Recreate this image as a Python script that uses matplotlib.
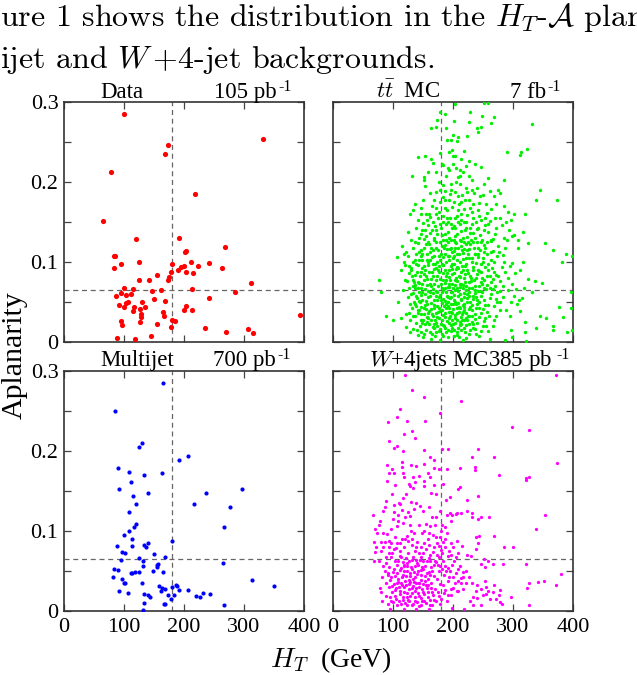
import numpy as np
import matplotlib
matplotlib.use('Agg')
import matplotlib.pyplot as plt

plt.rcParams['font.family'] = ['Liberation Serif', 'DejaVu Serif']
plt.rcParams['mathtext.fontset'] = 'cm'

# values: (HT in GeV, aplanarity)
data_pts = [(100.6,.285),(331,.254),(173,.246),(169,.2355),(79,.212),(219,.185),(65.6,.151),(120.6,.1286),(191,.130),(269,.1186),
(203,.114),(201.7,.112),(85,.108),(83,.107),(95.6,.098),(125,.0995),(84,.093),(180.5,.098),(200.5,.095),(195.6,.094),
(189.4,.0895),(179,.088),(211.7,.100),(223,.095),(241,.0986),(264,.092),(204,.087),(214.4,.086),(155,.0836),(174.4,.0815),
(173,.078),(141,.078),(125.6,.078),(311,.0736),(99.4,.0674),(115,.0657),(161.7,.0645),(146.7,.0637),(212.8,.0666),(285,.0624),
(95,.0616),(102.8,.0587),(111.7,.0595),(86.7,.0574),(241,.0553),(150,.0533),(129.4,.0503),(107,.0503),(102.8,.0487),(169,.0508),
(91.7,.0458),(99.4,.0441),(116.7,.0441),(135.6,.0437),(126,.0412),(204,.0449),(200.5,.0395),(213.3,.0395),(115.6,.0383),(165.6,.0379),
(127.8,.0354),(127.8,.0316),(167,.0325),(393,.0337),(94.4,.0266),(127,.0245),(97,.0208),(155,.0229),(180.5,.027),(185.6,.0266),
(178,.0183),(235,.0171),(307,.0158),(270,.0125),(314.4,.0117),(144.4,.0075),(88.3,.0054),(118.3,.0037)]

multijet_pts = [(165.6,.2846),(84.4,.2497),(129.4,.2105),(125,.2047),(206.7,.1935),(192,.1893),(90.6,.1785),(107.8,.1735),(163.3,.1727),(133.3,.1702),
(111,.1614),(92.2,.1519),(236,.1481),(296,.1531),(139.4,.1477),(115,.144),(216,.134),(120.6,.1336),(277,.1306),(108.3,.1236),
(266,.1053),(120,.1086),(116.7,.1053),(108.9,.0999),(100.6,.0949),(112.8,.0899),(179.4,.0874),(139.4,.0845),(132.8,.082),(136.7,.0795),
(87.8,.0807),(112.8,.0811),(97.2,.0741),(101,.0728),(150.6,.0707),(167.8,.067),(125,.0657),(95.6,.0641),(131.7,.0628),(265,.0595),
(157.2,.0591),(154.4,.057),(132,.0566),(154.4,.0545),(82.8,.0528),(90.6,.0516),(119,.0491),(124.4,.0491),(147.8,.0495),(165,.0483),
(111,.0474),(113.9,.047),(81.7,.0424),(96,.04),(100,.035),(101.7,.035),(130,.035),(312.8,.0391),(349.4,.0312),(158.3,.0308),
(163.3,.0291),(168.9,.0275),(180,.0304),(187.2,.0325),(188.3,.0312),(192,.0258),(207,.0258),(161,.0254),(92,.025),(106,.0225),
(231.7,.0225),(243.9,.0216),(219.4,.0187),(226.7,.0179),(133.9,.0208),(140,.0196),(143.9,.0179),(172.8,.02),(182.9,.0196),(178.3,.0154),
(133.9,.01),(168.3,.0087),(167,.0083),(266,.0075),(132,.0012)]

ttbar_pts = [(203,.297),(252,.299),(259,.299),(178,.288),(186,.285),(229,.288),(249,.283),(269,.281),(173,.277),(201,.276),
(226,.275),(263,.274),(331,.273),(163,.268),(172,.269),(188,.268),(240,.268),(247,.269),(242,.263),(200,.259),
(224,.258),(209,.256),(190,.252),(197,.253),(206,.251),(323,.241),(290,.237),(314,.237),(312,.234),(198,.24),
(193,.238),(178,.236),(200,.233),(204,.233),(142,.231),(154,.232),(213,.229),(219,.239),(163,.229),(166,.224),
(181,.222),(184,.221),(226,.226),(236,.222),(246,.219),(200,.223),(205,.217),(212,.215),(191,.218),(131,.207),
(151,.206),(152,.202),(154,.195),(189,.207),(217,.213),(227,.208),(259,.205),(285,.203),(251,.198),(231,.202),
(209,.206),(176,.2),(183,.196),(197,.198),(211,.197),(222,.193),(240,.192),(262,.189),(275,.19),(278,.186),
(161,.186),(172,.187),(187,.189),(204,.188),(215,.184),(235,.186),(250,.184),(268,.182),(345,.19),(339,.178),
(374,.178),(183,.181),(194,.178),(201,.175),(210,.172),(226,.177),(243,.174),(255,.172),(272,.173),(285,.17),
(137,.173),(147,.168),(133,.165),(172,.168),(178,.175),(190,.165),(198,.169),(218,.166),(232,.162),(241,.165),
(257,.161),(264,.166),(291,.163),(301,.16),(320,.16),(128,.16),(155,.16),(162,.156),(171,.16),(184,.158),
(195,.155),(206,.158),(214,.153),(224,.159),(234,.155),(247,.153),(261,.151),(279,.155),(288,.15),(297,.153),
(141,.152),(150,.149),(158,.146),(167,.15),(178,.147),(189,.148),(201,.145),(211,.147),(221,.143),(231,.148),
(242,.143),(254,.146),(272,.142),(281,.146),(302,.134),(317,.137),(125,.138),(139,.142),(146,.135),(153,.14),
(162,.136),(172,.14),(182,.134),(192,.138),(203,.133),(213,.139),(223,.131),(233,.136),(245,.134),(258,.138),
(267,.129),(294,.14),(299,.133),(308,.128),(130,.128),(141,.124),(151,.129),(160,.122),(169,.128),(178,.125),
(187,.121),(196,.128),(205,.124),(214,.126),(222,.122),(230,.127),(240,.125),(251,.121),(263,.126),(275,.12),
(290,.127),(325,.124),(115,.12),(118,.11),(133,.118),(143,.113),(152,.118),(161,.112),(171,.117),(180,.11),
(190,.116),(199,.112),(208,.118),(217,.111),(226,.116),(236,.11),(245,.115),(256,.11),(267,.114),(283,.109),
(308,.118),(353,.124),(367,.115),(388,.11),(398,.107),(125,.107),(136,.103),(147,.107),(156,.102),(165,.106),
(174,.1),(183,.106),(193,.102),(202,.107),(212,.1),(221,.105),(231,.1),(241,.106),(250,.1),(263,.103),
(273,.107),(285,.1),(299,.099),(316,.1),(382,.1),(120,.096),(130,.093),(139,.097),(149,.092),(158,.096),
(168,.091),(177,.095),(186,.09),(196,.095),(205,.091),(215,.095),(224,.09),(234,.094),(244,.089),(253,.094),
(268,.088),(281,.094),(113,.09),(126,.086),(137,.084),(146,.088),(155,.083),(165,.087),(174,.082),(184,.086),
(193,.081),(202,.086),(211,.081),(220,.085),(230,.08),(240,.085),(249,.08),(262,.083),(272,.084),(291,.08),
(124,.076),(134,.078),(143,.074),(152,.078),(161,.073),(171,.077),(180,.072),(189,.077),(198,.072),(207,.076),
(217,.071),(226,.075),(236,.07),(246,.075),(256,.071),(278,.076),(325,.079),(337,.076),(349,.074),(77,.077),
(127,.068),(137,.071),(147,.067),(156,.071),(166,.066),(175,.07),(184,.065),(194,.069),(203,.065),(212,.069),
(222,.065),(232,.068),(241,.064),(252,.067),(266,.066),(284,.07),(318,.068),(332,.063),(396,.062),(80,.063),
(134,.061),(144,.063),(153,.06),(162,.063),(171,.058),(181,.062),(190,.058),(199,.062),(208,.057),(218,.061),
(227,.057),(236,.061),(247,.058),(264,.06),(279,.064),(302,.058),(315,.055),(125,.056),(140,.055),(149,.052),
(158,.056),(168,.052),(177,.056),(186,.051),(195,.055),(204,.05),(214,.054),(223,.05),(233,.054),(243,.05),
(272,.054),(296,.05),(136,.048),(145,.05),(154,.046),(164,.049),(173,.045),(182,.049),(191,.045),(200,.048),
(210,.044),(219,.048),(229,.044),(240,.047),(258,.046),(307,.047),(376,.044),(396,.043),(131,.042),(141,.04),
(151,.043),(160,.039),(169,.043),(178,.039),(188,.042),(197,.038),(206,.042),(216,.038),(226,.041),(250,.041),
(278,.04),(311,.039),(345,.033),(88,.032),(100,.027),(114,.03),(127,.036),(136,.032),(146,.035),(156,.031),
(165,.035),(174,.031),(184,.034),(193,.03),(203,.034),(213,.031),(225,.033),(236,.029),(268,.028),(295,.032),
(355,.03),(383,.031),(128,.027),(139,.024),(150,.028),(160,.023),(170,.027),(180,.023),(190,.026),(200,.022),
(212,.025),(222,.021),(240,.024),(255,.02),(320,.025),(338,.018),(367,.02),(399,.015),(122,.019),(134,.016),
(145,.02),(155,.015),(166,.019),(176,.014),(186,.018),(196,.014),(208,.017),(220,.012),(233,.017),(247,.014),
(297,.015),(320,.012),(367,.015),(390,.012),(128,.012),(141,.009),(152,.01),(170,.007),(181,.01),(192,.006),
(206,.009),(222,.005),(238,.01),(262,.004),(299,.006),(163,.004),(178,.003),(216,.002),(287,.002),(322,.001)]

# denser part of the ttbar cloud, second pass over the crop
ttbar_core = [(139,.058),(143,.051),(147,.044),(142,.036),(149,.063),(152,.035),(157,.048),(161,.057),(163,.041),(167,.061),
(171,.036),(173,.052),(176,.043),(179,.059),(182,.04),(184,.054),(186,.031),(188,.062),(191,.05),(193,.037),
(194,.043),(197,.056),(198,.027),(200,.041),(202,.059),(204,.03),(205,.047),(207,.036),(209,.064),(211,.043),
(213,.052),(215,.028),(217,.046),(219,.056),(221,.036),(224,.06),(226,.032),(228,.05),(231,.04),(234,.058),
(237,.035),(240,.053),(244,.043),(248,.062),(252,.052),(257,.038),(146,.028),(153,.022),(158,.036),(163,.027),
(168,.018),(172,.024),(177,.03),(183,.021),(187,.036),(191,.015),(195,.033),(199,.018),(203,.024),(207,.012),
(211,.021),(215,.035),(219,.017),(224,.027),(229,.015),(234,.022),(243,.031),(251,.026),(260,.033),(137,.068),
(141,.075),(145,.082),(149,.072),(153,.066),(157,.079),(160,.088),(163,.07),(167,.082),(169,.072),(172,.064),
(175,.09),(178,.079),(181,.068),(183,.096),(186,.074),(188,.083),(191,.069),(193,.09),(195,.078),(197,.063),
(199,.085),(201,.098),(203,.071),(205,.08),(207,.067),(209,.093),(211,.073),(213,.087),(216,.067),(218,.08),
(220,.095),(222,.07),(225,.086),(227,.062),(230,.076),(233,.09),(236,.065),(239,.08),(243,.07),(247,.087),
(251,.077),(255,.066),(259,.09),(264,.075),(270,.07),(275,.083),(131,.083),(127,.095),(134,.1),(138,.11),
(142,.096),(146,.115),(149,.103),(153,.09),(156,.11),(159,.1),(163,.118),(166,.098),(169,.108),(172,.092),
(175,.115),(178,.102),(181,.12),(184,.096),(186,.11),(189,.1),(192,.125),(194,.108),(197,.118),(199,.097),
(202,.114),(204,.125),(207,.102),(210,.11),(213,.12),(216,.104),(219,.116),(222,.098),(225,.11),(228,.122),
(231,.105),(235,.118),(238,.099),(242,.11),(246,.125),(250,.105),(254,.118),(259,.098),(263,.112),(269,.1),
(276,.113),(144,.13),(148,.14),(155,.132),(158,.125),(165,.14),(168,.13),(174,.135),(180,.142),(184,.128),
(187,.135),(194,.13),(198,.142),(201,.128),(206,.135),(209,.15),(216,.13),(220,.14),(225,.125),(228,.136),
(237,.13),(240,.141),(248,.127),(252,.14),(160,.16),(175,.155),(186,.168),(192,.15),(203,.155),(208,.165),
(218,.15),(228,.168),(238,.15),(146,.16),(165,.17),(178,.19),(195,.185),(205,.2),(220,.178),(232,.19),
(130,.09),(133,.07),(130,.06),(128,.047),(134,.033),(135,.05),(138,.045),(140,.015),(147,.012),(150,.006),
(156,.025),(161,.012),(165,.01),(169,.022),(174,.02),(179,.016),(184,.008),(188,.013),(196,.021),(201,.008),
(210,.006),(214,.015),(218,.027),(226,.01),(231,.025),(237,.016),(244,.007),(250,.02),(258,.014),(266,.02),
(272,.033),(278,.05),(283,.056),(289,.04),(292,.065),(298,.073),(305,.066),(310,.052),(262,.055),(268,.045),
(274,.062),(286,.088),(295,.095),(303,.086),(312,.09),(263,.128),(270,.135),(285,.13),(287,.118),(259,.148),
(270,.155),(149,.11),(137,.125),(122,.113),(118,.1),(107,.106),(120,.078),(117,.065),(109,.05),(122,.035)]

# third pass, gaps still open in the cloud
ttbar_fill = [(135,.075),(141,.067),(146,.059),(151,.085),(155,.051),(159,.064),(164,.079),(168,.046),(170,.098),(174,.062),
(177,.087),(180,.053),(183,.078),(185,.045),(187,.067),(190,.086),(192,.056),(194,.072),(196,.048),(198,.091),
(200,.067),(202,.053),(204,.077),(206,.094),(208,.049),(210,.083),(212,.06),(214,.072),(216,.09),(218,.044),
(220,.075),(223,.055),(226,.068),(229,.083),(232,.046),(235,.078),(238,.056),(241,.09),(245,.064),(249,.073),
(253,.046),(257,.083),(261,.068),(267,.079),(273,.05),(144,.04),(149,.024),(155,.041),(159,.03),(166,.033),
(171,.013),(175,.037),(181,.027),(185,.02),(189,.047),(194,.024),(198,.036),(202,.015),(206,.027),(210,.038),
(214,.022),(218,.04),(222,.03),(227,.023),(232,.033),(238,.043),(246,.036),(254,.03),(140,.088),(144,.103),
(151,.095),(155,.122),(162,.103),(167,.115),(171,.125),(176,.107),(181,.097),(185,.118),(188,.128),(191,.108),
(195,.116),(200,.105),(203,.118),(206,.11),(211,.128),(215,.115),(218,.125),(223,.115),(227,.105),(233,.125),
(237,.11),(241,.118),(247,.097),(252,.113),(257,.125),(265,.093),(157,.152),(170,.145),(176,.162),(183,.15),
(190,.155),(197,.148),(204,.142),(213,.16),(222,.15),(229,.142),(244,.158),(253,.155),(168,.178),(187,.178),
(197,.19),(208,.182),(214,.175),(224,.187),(233,.172),(245,.183),(150,.178),(158,.212),(172,.212),(194,.215),
(212,.208),(221,.22)]

wjets_pts = [(120,.295),(372,.295),(132,.276),(152,.268),(213,.263),(111,.253),(179,.247),(107,.242),(92,.236),(124,.238),
(153,.238),(298,.23),(327,.226),(132,.2255),(119,.221),(136,.216),(94,.212),(106,.206),(101,.204),(116,.2),
(151,.201),(182,.202),(191,.202),(241,.203),(232,.192),(269,.192),(161,.192),(168,.189),(115,.186),(90,.182),
(130,.183),(139,.181),(152,.184),(374,.185),(115,.18),(99,.177),(168,.179),(176,.178),(190,.177),(212,.179),
(237,.18),(237,.176),(102,.172),(93,.173),(117,.173),(118,.168),(143,.1685),(133,.167),(159,.172),(161,.167),
(277,.17),(327,.167),(321,.166),(321,.1635),(90,.162),(137,.161),(151,.162),(127,.159),(128,.156),(104,.157),
(152,.156),(168,.157),(183,.159),(211,.155),(208,.153),(134,.154),(163,.148),(171,.146),(121,.146),(116,.141),
(98,.146),(195,.143),(189,.139),(242,.144),(224,.139),(89,.138),(110,.135),(101,.133),(112,.134),(130,.136),
(138,.135),(145,.131),(160,.13),(87,.13),(84,.125),(102,.124),(115,.126),(125,.124),(135,.127),(150,.125),
(178,.125),(195,.122),(207,.122),(213,.123),(224,.125),(232,.123),(353,.12),(66,.12),(109,.12),(120,.118),
(128,.119),(165,.118),(172,.118),(190,.12),(198,.12),(205,.121),(247,.118),(260,.117),(100,.115),(108,.113),
(78,.112),(232,.117),(241,.115),(77,.107),(117,.11),(128,.108),(143,.108),(155,.109),(162,.106),(170,.108),
(182,.108),(186,.105),(197,.112),(106,.106),(97,.103),(130,.1),(70,.102),(151,.1),(160,.098),(180,.1),
(338,.103),(73,.097),(84,.097),(90,.096),(135,.097),(148,.097),(166,.095),(172,.092),(178,.093),(190,.098),
(244,.094),(269,.094),(103,.093),(120,.09),(158,.09),(186,.09),(239,.092),(68,.086),(80,.086),(87,.086),
(93,.087),(97,.085),(112,.085),(125,.087),(140,.086),(152,.085),(173,.085),(183,.086),(196,.085),(207,.087),
(71,.08),(84,.08),(94,.08),(105,.079),(118,.08),(131,.082),(147,.08),(160,.082),(177,.081),(187,.08),
(200,.08),(215,.081),(241,.085),(285,.08),(300,.08),(70,.074),(80,.075),(99,.073),(111,.075),(125,.073),
(136,.075),(150,.072),(167,.074),(182,.073),(194,.075),(238,.078),(230,.069),(97,.068),(112,.069),(122,.066),
(134,.067),(147,.068),(160,.066),(176,.067),(191,.069),(205,.067),(224,.07),(252,.065),(69,.063),(76,.062),
(88,.06),(103,.062),(116,.061),(127,.063),(139,.064),(150,.062),(161,.063),(172,.061),(184,.063),(201,.062),
(258,.062),(321,.059),(83,.056),(93,.055),(106,.057),(118,.056),(130,.055),(142,.057),(154,.056),(168,.058),
(178,.056),(191,.054),(212,.056),(246,.059),(267,.059),(284,.059),(87,.05),(100,.049),(111,.051),(123,.05),
(135,.049),(147,.051),(160,.049),(176,.05),(188,.05),(205,.048),(222,.05),(254,.055),(91,.045),(104,.044),
(116,.045),(128,.044),(140,.046),(153,.044),(168,.044),(185,.045),(200,.043),(216,.042),(380,.046),(81,.042),
(95,.039),(108,.04),(120,.038),(133,.04),(146,.039),(158,.04),(173,.04),(192,.038),(208,.037),(88,.035),
(101,.034),(113,.035),(126,.034),(138,.035),(150,.034),(163,.035),(178,.034),(213,.035),(253,.037),(269,.033),
(326,.035),(342,.036),(351,.038),(372,.032),(78,.029),(93,.03),(105,.029),(118,.03),(131,.029),(144,.03),
(157,.029),(170,.028),(200,.029),(240,.032),(246,.028),(255,.03),(324,.029),(80,.024),(98,.024),(111,.025),
(124,.023),(137,.025),(150,.024),(165,.024),(185,.022),(207,.025),(278,.026),(88,.019),(103,.019),(117,.018),
(129,.019),(143,.019),(158,.018),(176,.019),(196,.02),(233,.018),(255,.021),(276,.02),(297,.018),(82,.012),
(97,.012),(110,.013),(125,.014),(137,.013),(152,.013),(168,.014),(190,.012),(228,.013),(240,.016),(262,.015),
(278,.011),(92,.009),(107,.007),(131,.008),(147,.008),(165,.007),(178,.009),(233,.008),(246,.007),(327,.008),
(95,.002),(118,.003),(138,.003),(160,.002),(198,.004),(219,.002)]

# denser part of the W+jets cloud, second pass over the crop
wjets_core = [(92,.047),(97,.043),(102,.052),(106,.047),(109,.036),(113,.054),(115,.042),(119,.05),(121,.044),(124,.056),
(127,.039),(129,.048),(132,.052),(135,.036),(137,.043),(141,.05),(144,.035),(146,.045),(150,.052),(153,.038),
(156,.047),(159,.033),(162,.045),(165,.05),(99,.031),(103,.026),(106,.035),(110,.03),(112,.021),(115,.033),
(118,.024),(121,.032),(123,.018),(126,.028),(128,.036),(131,.022),(134,.031),(136,.017),(139,.029),(141,.023),
(144,.035),(147,.016),(149,.028),(152,.021),(155,.032),(158,.024),(161,.014),(164,.029),(167,.02),(95,.017),
(100,.011),(105,.015),(113,.009),(116,.014),(120,.01),(124,.007),(127,.012),(134,.009),(140,.011),(144,.006),
(149,.012),(155,.01),(162,.008),(171,.012),(175,.024),(180,.015),(183,.032),(187,.026),(192,.02),(194,.042),
(197,.028),(203,.035),(209,.025),(214,.041),(217,.028),(222,.035),(108,.063),(114,.068),(119,.058),(124,.06),
(131,.064),(136,.056),(140,.06),(145,.064),(148,.055),(156,.062),(164,.055),(170,.063),(175,.058),(181,.052),
(186,.056),(195,.05),(199,.057),(208,.052),(216,.049),(226,.043),(231,.035),(238,.025),(250,.02),(258,.025),
(266,.024),(272,.015),(281,.009),(89,.068),(93,.072),(101,.078),(107,.085),(115,.09),(124,.094),(132,.09),
(138,.08),(143,.072),(155,.078),(162,.07),(169,.08),(174,.07),(180,.076),(197,.07),(208,.073)]

xticks = [0, 100, 200, 300, 400]
yticks = [0, 0.1, 0.2, 0.3]
yticklabels = ['0', '0.1', '0.2', '0.3']
ht_cut = 180
apl_cut = 0.065

W, H = 637, 675
fig = plt.figure(figsize=(W/100, H/100), dpi=100)

def make_axes(left, top, pts, color, size):
    ax = fig.add_axes([left/W, 1-(top+240)/H, 240/W, 240/H])
    x, y = np.array(pts).T
    ax.scatter(x, y, s=size, c=color, linewidths=0, zorder=3)
    ax.axvline(ht_cut, color='#666666', lw=0.9, ls=(0, (4, 3)))
    ax.axhline(apl_cut, color='#666666', lw=0.9, ls=(0, (4, 3)))
    ax.set_xlim(0, 400)
    ax.set_ylim(0, 0.3)
    ax.set_xticks(xticks)
    ax.set_yticks(yticks)
    ax.set_yticks([0.05, 0.15, 0.25], minor=True)
    ax.tick_params(which='both', direction='in', top=True, right=True, length=5,
                   width=0.9, color='#444444', labelsize=16)
    ax.tick_params(axis='x', pad=5)
    ax.tick_params(axis='y', pad=4)
    for s in ax.spines.values():
        s.set_linewidth(1.2)
        s.set_color('#333333')
    return ax

ax1 = make_axes(64, 102, data_pts, '#ff0000', 14)
ax2 = make_axes(333, 102, ttbar_pts + ttbar_core + ttbar_fill, '#00f000', 6)
ax3 = make_axes(64, 371, multijet_pts, '#0000ff', 9)
ax4 = make_axes(333, 371, wjets_pts + wjets_core, '#ff00ff', 5.5)

for ax in [ax1, ax2]:
    ax.set_xticklabels([])
for ax in [ax2, ax4]:
    ax.set_yticklabels([])
for ax in [ax1, ax3]:
    ax.set_yticklabels(yticklabels)
for ax in [ax3, ax4]:
    ax.set_xticklabels([str(t) for t in xticks])

# panel titles
def label(px, py, s, size=16.5):
    fig.text(px/W, 1-py/H, s, fontsize=size, ha='left', va='baseline')

label(100, 98, 'Data')
label(214, 98, '105 pb')
label(278, 91, '-1', 11.5)
label(376, 98, r'$t\bar{t}$  MC')
label(510, 98, '7 fb')
label(547, 91, '-1', 11.5)
label(100, 366, 'Multijet')
label(213, 366, '700 pb')
label(277, 359, '-1', 11.5)
label(369, 366, r'$W$+4jets MC385 pb')
label(556, 359, '-1', 11.5)

fig.text(15/W, 1-355/H, 'Aplanarity', rotation=90, fontsize=21.5, ha='center', va='center')
fig.text(331/W, 1-667/H, r'$H_T$  (GeV)', fontsize=20, ha='center', va='baseline')

# body text from the page above the figure
fig.text(0, 1-26/H, r'ure 1 shows the distribution in the $H_T$-$\mathcal{A}$ plan', fontsize=23,
         family='cmr10', ha='left', va='baseline')
fig.text(0, 1-68/H, r'ijet and $W\,$+4-jet backgrounds.', fontsize=23,
         family='cmr10', ha='left', va='baseline')

fig.savefig('out.png', dpi=100)
